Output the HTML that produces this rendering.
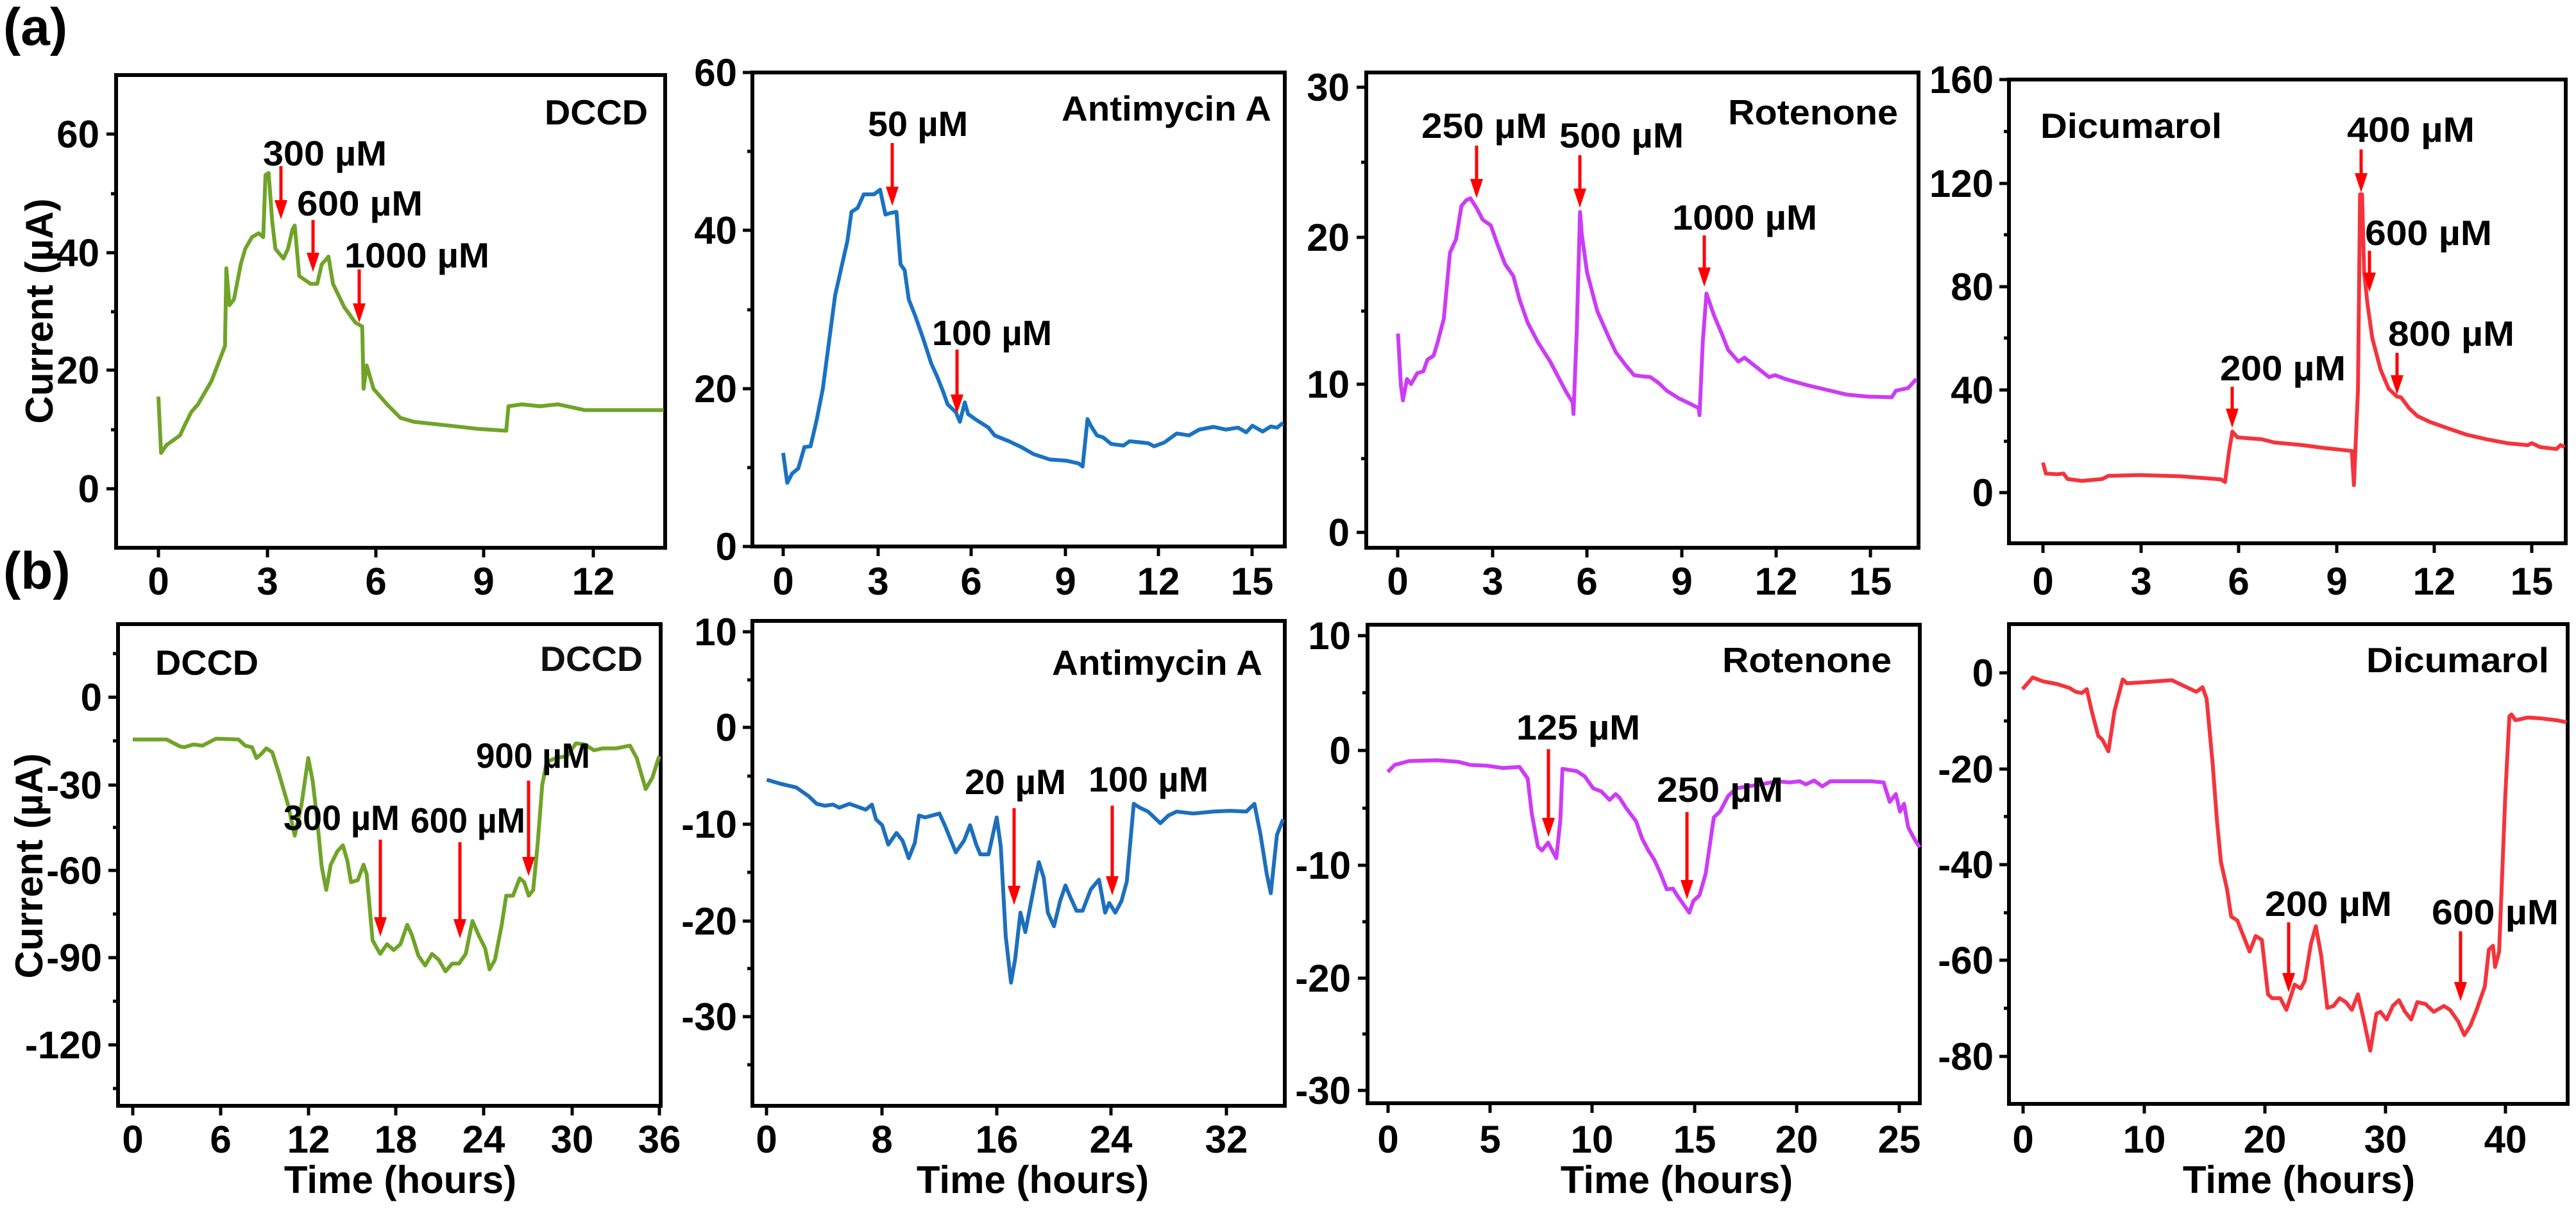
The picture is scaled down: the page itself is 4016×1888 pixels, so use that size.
<!DOCTYPE html>
<html><head><meta charset="utf-8"><style>
html,body{margin:0;padding:0;background:#fff;}
svg{display:block;}
text{font-family:"Liberation Sans",Arial,sans-serif;font-weight:bold;fill:#000;}
.yl{font-size:60px;text-anchor:end;}
.xl{font-size:60px;text-anchor:middle;}
.ax{fill:none;stroke:#000;stroke-width:6;}
.tk{stroke:#000;stroke-width:5;}
.ln{fill:none;stroke-width:6;stroke-linejoin:round;vector-effect:non-scaling-stroke;}
.ar{stroke:#f00;stroke-width:5;}
.ah{fill:#f00;}
.lb{font-size:55px;}
.an{font-size:55px;}
.tt{font-size:60px;text-anchor:middle;}
</style></head><body>
<svg width="4016" height="1888" viewBox="0 0 4016 1888" xmlns="http://www.w3.org/2000/svg">
<rect width="4016" height="1888" fill="#fff"/>
<text x="5" y="70" style="font-size:82px">(a)</text>
<text x="5" y="918" style="font-size:82px">(b)</text>

<!-- y axis titles -->
<text transform="translate(82,485) rotate(-90)" class="tt">Current (µA)</text>
<text transform="translate(66,1350) rotate(-90)" class="tt">Current (µA)</text>

<!-- ===== a1 ===== -->
<rect class="ax" x="181" y="117" width="856" height="737"/>
<g class="tk">
<line x1="166" y1="762" x2="181" y2="762"/><line x1="166" y1="577" x2="181" y2="577"/><line x1="166" y1="394" x2="181" y2="394"/><line x1="166" y1="209" x2="181" y2="209"/>
<line x1="173" y1="670" x2="181" y2="670"/><line x1="173" y1="486" x2="181" y2="486"/><line x1="173" y1="302" x2="181" y2="302"/>
<line x1="247" y1="854" x2="247" y2="869"/><line x1="417" y1="854" x2="417" y2="869"/><line x1="586" y1="854" x2="586" y2="869"/><line x1="754" y1="854" x2="754" y2="869"/><line x1="925" y1="854" x2="925" y2="869"/>
</g>
<text class="yl" x="155" y="783">0</text><text class="yl" x="155" y="598">20</text><text class="yl" x="155" y="415">40</text><text class="yl" x="155" y="230">60</text>
<text class="xl" x="247" y="927">0</text><text class="xl" x="417" y="927">3</text><text class="xl" x="586" y="927">6</text><text class="xl" x="754" y="927">9</text><text class="xl" x="925" y="927">12</text>
<polyline class="ln" stroke="#70a428" transform="scale(0.7015,0.6061)" points="352,1020 358,1165 370,1145 400,1120 410,1095 425,1060 440,1040 470,980 495,905 500,890 503,690 510,785 520,770 535,680 545,640 560,610 575,600 585,610 590,450 597,445 605,570 612,640 630,665 640,640 650,590 655,580 665,710 690,730 705,730 715,680 730,660 740,730 765,790 790,830 805,840 808,1000 815,940 820,960 830,1000 860,1040 890,1075 920,1085 1000,1095 1060,1103 1125,1108 1130,1045 1160,1040 1200,1045 1240,1040 1300,1055 1475,1055"/>
<text class="lb" x="849" y="194" textLength="161" lengthAdjust="spacingAndGlyphs">DCCD</text>
<text class="an" x="410" y="258" textLength="193" lengthAdjust="spacingAndGlyphs">300 µM</text>
<text class="an" x="463" y="336" textLength="196" lengthAdjust="spacingAndGlyphs">600 µM</text>
<text class="an" x="537" y="417" textLength="226" lengthAdjust="spacingAndGlyphs">1000 µM</text>
<line class="ar" x1="438" y1="259" x2="438" y2="315"/><polygon class="ah" points="428,312 448,312 438,342"/>
<line class="ar" x1="488" y1="343" x2="488" y2="397"/><polygon class="ah" points="478,394 498,394 488,424"/>
<line class="ar" x1="560" y1="420" x2="560" y2="476"/><polygon class="ah" points="550,473 570,473 560,503"/>

<!-- ===== a2 ===== -->
<rect class="ax" x="1173" y="113" width="830" height="739"/>
<g class="tk">
<line x1="1158" y1="852" x2="1173" y2="852"/><line x1="1158" y1="606" x2="1173" y2="606"/><line x1="1158" y1="359" x2="1173" y2="359"/><line x1="1158" y1="113" x2="1173" y2="113"/>
<line x1="1165" y1="729" x2="1173" y2="729"/><line x1="1165" y1="483" x2="1173" y2="483"/><line x1="1165" y1="236" x2="1173" y2="236"/>
<line x1="1221" y1="852" x2="1221" y2="867"/><line x1="1369" y1="852" x2="1369" y2="867"/><line x1="1514" y1="852" x2="1514" y2="867"/><line x1="1661" y1="852" x2="1661" y2="867"/><line x1="1806" y1="852" x2="1806" y2="867"/><line x1="1952" y1="852" x2="1952" y2="867"/>
</g>
<text class="yl" x="1149" y="873">0</text><text class="yl" x="1149" y="627">20</text><text class="yl" x="1149" y="380">40</text><text class="yl" x="1149" y="134">60</text>
<text class="xl" x="1221" y="927">0</text><text class="xl" x="1369" y="927">3</text><text class="xl" x="1514" y="927">6</text><text class="xl" x="1661" y="927">9</text><text class="xl" x="1806" y="927">12</text><text class="xl" x="1952" y="927">15</text>
<polyline class="ln" stroke="#1a72c2" transform="translate(1050,0) scale(0.6378,0.6061)" points="268,1165 278,1242 290,1218 305,1205 320,1150 335,1148 350,1080 365,1000 380,880 395,760 410,690 425,620 435,545 450,535 465,500 490,500 505,488 518,552 530,548 545,545 555,680 565,695 575,770 590,810 610,870 630,935 645,970 660,1010 670,1040 690,1060 700,1085 712,1035 720,1065 740,1080 770,1100 785,1120 820,1135 850,1150 880,1168 920,1182 960,1185 990,1192 1000,1200 1012,1078 1020,1095 1035,1120 1050,1125 1070,1142 1100,1146 1115,1135 1160,1140 1175,1148 1200,1138 1230,1115 1260,1120 1285,1105 1320,1098 1350,1105 1380,1100 1400,1112 1415,1095 1440,1110 1460,1097 1475,1100 1490,1088"/>
<text class="lb" x="1655" y="188" textLength="327" lengthAdjust="spacingAndGlyphs">Antimycin A</text>
<text class="an" x="1353" y="212" textLength="156" lengthAdjust="spacingAndGlyphs">50 µM</text>
<text class="an" x="1453" y="538" textLength="187" lengthAdjust="spacingAndGlyphs">100 µM</text>
<line class="ar" x1="1391" y1="223" x2="1391" y2="294"/><polygon class="ah" points="1381,291 1401,291 1391,321"/>
<line class="ar" x1="1492" y1="545" x2="1492" y2="618"/><polygon class="ah" points="1482,615 1502,615 1492,645"/>

<!-- ===== a3 ===== -->
<rect class="ax" x="2130" y="113" width="861" height="741"/>
<g class="tk">
<line x1="2115" y1="830" x2="2130" y2="830"/><line x1="2115" y1="599" x2="2130" y2="599"/><line x1="2115" y1="370" x2="2130" y2="370"/><line x1="2115" y1="136" x2="2130" y2="136"/>
<line x1="2122" y1="715" x2="2130" y2="715"/><line x1="2122" y1="485" x2="2130" y2="485"/><line x1="2122" y1="253" x2="2130" y2="253"/>
<line x1="2179" y1="854" x2="2179" y2="869"/><line x1="2327" y1="854" x2="2327" y2="869"/><line x1="2474" y1="854" x2="2474" y2="869"/><line x1="2622" y1="854" x2="2622" y2="869"/><line x1="2769" y1="854" x2="2769" y2="869"/><line x1="2916" y1="854" x2="2916" y2="869"/>
</g>
<text class="yl" x="2104" y="851">0</text><text class="yl" x="2104" y="620">10</text><text class="yl" x="2104" y="391">20</text><text class="yl" x="2104" y="157">30</text>
<text class="xl" x="2179" y="927">0</text><text class="xl" x="2327" y="927">3</text><text class="xl" x="2474" y="927">6</text><text class="xl" x="2622" y="927">9</text><text class="xl" x="2769" y="927">12</text><text class="xl" x="2916" y="927">15</text>
<polyline class="ln" stroke="#cc3cf5" transform="translate(2050,0) scale(0.6378,0.6061)" points="203,858 210,990 215,1030 225,975 235,988 250,960 265,955 275,925 290,915 300,880 315,820 330,650 345,615 358,530 370,515 380,510 395,535 410,565 430,580 445,625 465,680 485,710 500,770 520,830 545,880 575,930 600,980 615,1010 630,1035 632,1065 640,850 648,545 652,600 665,700 690,800 715,860 735,905 760,940 780,965 800,968 820,970 840,985 860,1005 890,1025 920,1040 938,1050 940,1068 948,880 957,755 975,810 995,860 1010,900 1035,930 1050,920 1080,945 1110,970 1125,965 1150,975 1200,990 1260,1005 1300,1015 1350,1020 1410,1022 1420,1005 1450,998 1470,975"/>
<text class="lb" x="2694" y="194" textLength="265" lengthAdjust="spacingAndGlyphs">Rotenone</text>
<text class="an" x="2216" y="215" textLength="196" lengthAdjust="spacingAndGlyphs">250 µM</text>
<text class="an" x="2431" y="230" textLength="194" lengthAdjust="spacingAndGlyphs">500 µM</text>
<text class="an" x="2607" y="358" textLength="226" lengthAdjust="spacingAndGlyphs">1000 µM</text>
<line class="ar" x1="2302" y1="227" x2="2302" y2="282"/><polygon class="ah" points="2292,279 2312,279 2302,309"/>
<line class="ar" x1="2463" y1="242" x2="2463" y2="297"/><polygon class="ah" points="2453,294 2473,294 2463,324"/>
<line class="ar" x1="2657" y1="367" x2="2657" y2="420"/><polygon class="ah" points="2647,417 2667,417 2657,447"/>

<!-- ===== a4 ===== -->
<rect class="ax" x="3132" y="124" width="868" height="723"/>
<g class="tk">
<line x1="3117" y1="768" x2="3132" y2="768"/><line x1="3117" y1="608" x2="3132" y2="608"/><line x1="3117" y1="447" x2="3132" y2="447"/><line x1="3117" y1="286" x2="3132" y2="286"/><line x1="3117" y1="124" x2="3132" y2="124"/>
<line x1="3124" y1="688" x2="3132" y2="688"/><line x1="3124" y1="527" x2="3132" y2="527"/><line x1="3124" y1="366" x2="3132" y2="366"/><line x1="3124" y1="205" x2="3132" y2="205"/>
<line x1="3185" y1="847" x2="3185" y2="862"/><line x1="3338" y1="847" x2="3338" y2="862"/><line x1="3490" y1="847" x2="3490" y2="862"/><line x1="3643" y1="847" x2="3643" y2="862"/><line x1="3795" y1="847" x2="3795" y2="862"/><line x1="3947" y1="847" x2="3947" y2="862"/>
</g>
<text class="yl" x="3108" y="789">0</text><text class="yl" x="3108" y="629">40</text><text class="yl" x="3108" y="468">80</text><text class="yl" x="3108" y="307">120</text><text class="yl" x="3108" y="145">160</text>
<text class="xl" x="3185" y="927">0</text><text class="xl" x="3338" y="927">3</text><text class="xl" x="3490" y="927">6</text><text class="xl" x="3643" y="927">9</text><text class="xl" x="3795" y="927">12</text><text class="xl" x="3947" y="927">15</text>
<polyline class="ln" stroke="#f4343c" transform="translate(3016,0) scale(0.6378,0.6061)" points="265,1190 272,1218 300,1220 315,1218 325,1232 360,1237 410,1232 425,1224 500,1222 600,1225 700,1233 710,1240 720,1160 728,1110 740,1125 800,1130 830,1138 900,1145 950,1152 1020,1160 1025,1248 1035,1000 1040,500 1045,500 1050,700 1058,780 1070,870 1090,950 1110,1000 1130,1020 1140,1022 1160,1050 1180,1070 1210,1085 1250,1100 1300,1118 1350,1130 1400,1140 1450,1145 1460,1140 1480,1150 1520,1155 1530,1145 1540,1150"/>
<text class="lb" x="3181" y="215" textLength="283" lengthAdjust="spacingAndGlyphs">Dicumarol</text>
<text class="an" x="3659" y="221" textLength="199" lengthAdjust="spacingAndGlyphs">400 µM</text>
<text class="an" x="3687" y="382" textLength="198" lengthAdjust="spacingAndGlyphs">600 µM</text>
<text class="an" x="3723" y="539" textLength="197" lengthAdjust="spacingAndGlyphs">800 µM</text>
<text class="an" x="3461" y="593" textLength="196" lengthAdjust="spacingAndGlyphs">200 µM</text>
<line class="ar" x1="3681" y1="233" x2="3681" y2="273"/><polygon class="ah" points="3671,270 3691,270 3681,300"/>
<line class="ar" x1="3694" y1="391" x2="3694" y2="428"/><polygon class="ah" points="3684,425 3704,425 3694,455"/>
<line class="ar" x1="3737" y1="550" x2="3737" y2="588"/><polygon class="ah" points="3727,585 3747,585 3737,615"/>
<line class="ar" x1="3480" y1="603" x2="3480" y2="640"/><polygon class="ah" points="3470,637 3490,637 3480,667"/>

<!-- ===== b1 ===== -->
<rect class="ax" x="184" y="973" width="846" height="751"/>
<g class="tk">
<line x1="169" y1="1087" x2="184" y2="1087"/><line x1="169" y1="1224" x2="184" y2="1224"/><line x1="169" y1="1357" x2="184" y2="1357"/><line x1="169" y1="1493" x2="184" y2="1493"/><line x1="169" y1="1629" x2="184" y2="1629"/>
<line x1="176" y1="1019" x2="184" y2="1019"/><line x1="176" y1="1155" x2="184" y2="1155"/><line x1="176" y1="1290" x2="184" y2="1290"/><line x1="176" y1="1425" x2="184" y2="1425"/><line x1="176" y1="1561" x2="184" y2="1561"/><line x1="176" y1="1697" x2="184" y2="1697"/>
<line x1="207" y1="1724" x2="207" y2="1739"/><line x1="344" y1="1724" x2="344" y2="1739"/><line x1="481" y1="1724" x2="481" y2="1739"/><line x1="617" y1="1724" x2="617" y2="1739"/><line x1="754" y1="1724" x2="754" y2="1739"/><line x1="892" y1="1724" x2="892" y2="1739"/><line x1="1028" y1="1724" x2="1028" y2="1739"/>
</g>
<text class="yl" x="159" y="1108">0</text><text class="yl" x="159" y="1245">-30</text><text class="yl" x="159" y="1378">-60</text><text class="yl" x="159" y="1514">-90</text><text class="yl" x="159" y="1650">-120</text>
<text class="xl" x="207" y="1797">0</text><text class="xl" x="344" y="1797">6</text><text class="xl" x="481" y="1797">12</text><text class="xl" x="617" y="1797">18</text><text class="xl" x="754" y="1797">24</text><text class="xl" x="892" y="1797">30</text><text class="xl" x="1028" y="1797">36</text>
<polyline class="ln" stroke="#70a428" transform="translate(0,940) scale(0.7015,0.6046)" points="295,352 370,352 380,358 400,370 410,372 430,365 450,368 480,350 530,352 545,368 560,372 570,400 580,390 592,375 605,385 620,440 640,520 655,600 670,520 685,400 695,460 705,560 715,680 725,740 735,675 750,640 762,625 772,665 780,720 795,715 808,675 815,700 828,870 845,905 860,880 875,895 890,880 905,830 915,855 930,910 945,935 960,905 975,920 990,950 1005,930 1020,930 1035,905 1050,820 1065,860 1078,890 1088,945 1100,920 1115,830 1125,755 1140,755 1155,710 1165,720 1175,755 1185,740 1195,620 1205,470 1215,410 1235,400 1260,395 1280,362 1300,365 1320,380 1340,375 1370,375 1400,368 1415,400 1435,480 1450,450 1465,395"/>
<text class="lb" x="242" y="1052" textLength="161" lengthAdjust="spacingAndGlyphs">DCCD</text>
<text class="lb" x="842" y="1046" textLength="160" lengthAdjust="spacingAndGlyphs" style="fill:#111">DCCD</text>
<text class="an" x="442" y="1294" textLength="181" lengthAdjust="spacingAndGlyphs">300 µM</text>
<text class="an" x="640" y="1298" textLength="179" lengthAdjust="spacingAndGlyphs">600 µM</text>
<text class="an" x="742" y="1197" textLength="178" lengthAdjust="spacingAndGlyphs">900 µM</text>
<line class="ar" x1="593" y1="1309" x2="593" y2="1433"/><polygon class="ah" points="583,1430 603,1430 593,1460"/>
<line class="ar" x1="717" y1="1313" x2="717" y2="1436"/><polygon class="ah" points="707,1433 727,1433 717,1463"/>
<line class="ar" x1="824" y1="1217" x2="824" y2="1339"/><polygon class="ah" points="814,1336 834,1336 824,1366"/>
<text class="tt" x="624" y="1860">Time (hours)</text>

<!-- ===== b2 ===== -->
<rect class="ax" x="1173" y="968" width="830" height="756"/>
<g class="tk">
<line x1="1158" y1="985" x2="1173" y2="985"/><line x1="1158" y1="1134" x2="1173" y2="1134"/><line x1="1158" y1="1285" x2="1173" y2="1285"/><line x1="1158" y1="1436" x2="1173" y2="1436"/><line x1="1158" y1="1585" x2="1173" y2="1585"/>
<line x1="1165" y1="1060" x2="1173" y2="1060"/><line x1="1165" y1="1210" x2="1173" y2="1210"/><line x1="1165" y1="1360" x2="1173" y2="1360"/><line x1="1165" y1="1510" x2="1173" y2="1510"/><line x1="1165" y1="1660" x2="1173" y2="1660"/>
<line x1="1195" y1="1724" x2="1195" y2="1739"/><line x1="1375" y1="1724" x2="1375" y2="1739"/><line x1="1554" y1="1724" x2="1554" y2="1739"/><line x1="1732" y1="1724" x2="1732" y2="1739"/><line x1="1912" y1="1724" x2="1912" y2="1739"/>
</g>
<text class="yl" x="1149" y="1006">10</text><text class="yl" x="1149" y="1155">0</text><text class="yl" x="1149" y="1306">-10</text><text class="yl" x="1149" y="1457">-20</text><text class="yl" x="1149" y="1606">-30</text>
<text class="xl" x="1195" y="1797">0</text><text class="xl" x="1375" y="1797">8</text><text class="xl" x="1554" y="1797">16</text><text class="xl" x="1732" y="1797">24</text><text class="xl" x="1912" y="1797">32</text>
<polyline class="ln" stroke="#1d6fbd" transform="translate(1050,938) scale(0.6378,0.6061)" points="228,458 260,468 300,478 330,500 350,520 370,525 390,522 405,530 430,520 470,535 485,522 495,560 510,575 525,625 545,595 560,615 575,660 590,620 600,550 615,555 650,545 665,580 690,645 710,615 725,575 740,625 750,650 770,650 790,555 800,630 812,860 825,980 835,920 848,800 860,850 880,740 893,670 905,710 915,800 930,835 945,770 958,730 970,760 985,795 1000,795 1020,740 1040,715 1055,800 1065,775 1080,800 1095,770 1108,720 1125,520 1140,530 1160,540 1175,555 1190,570 1210,550 1230,540 1270,545 1320,540 1360,538 1400,540 1420,520 1435,600 1450,700 1460,750 1475,600 1490,560"/>
<text class="lb" x="1640" y="1052" textLength="328" lengthAdjust="spacingAndGlyphs">Antimycin A</text>
<text class="an" x="1504" y="1238" textLength="158" lengthAdjust="spacingAndGlyphs">20 µM</text>
<text class="an" x="1697" y="1234" textLength="187" lengthAdjust="spacingAndGlyphs">100 µM</text>
<line class="ar" x1="1581" y1="1260" x2="1581" y2="1384"/><polygon class="ah" points="1571,1381 1591,1381 1581,1411"/>
<line class="ar" x1="1734" y1="1256" x2="1734" y2="1369"/><polygon class="ah" points="1724,1366 1744,1366 1734,1396"/>
<text class="tt" x="1610" y="1860">Time (hours)</text>

<!-- ===== b3 ===== -->
<rect class="ax" x="2132" y="974" width="861" height="746"/>
<g class="tk">
<line x1="2117" y1="991" x2="2132" y2="991"/><line x1="2117" y1="1170" x2="2132" y2="1170"/><line x1="2117" y1="1349" x2="2132" y2="1349"/><line x1="2117" y1="1525" x2="2132" y2="1525"/><line x1="2117" y1="1700" x2="2132" y2="1700"/>
<line x1="2124" y1="1080" x2="2132" y2="1080"/><line x1="2124" y1="1260" x2="2132" y2="1260"/><line x1="2124" y1="1437" x2="2132" y2="1437"/><line x1="2124" y1="1612" x2="2132" y2="1612"/>
<line x1="2164" y1="1720" x2="2164" y2="1735"/><line x1="2323" y1="1720" x2="2323" y2="1735"/><line x1="2482" y1="1720" x2="2482" y2="1735"/><line x1="2642" y1="1720" x2="2642" y2="1735"/><line x1="2801" y1="1720" x2="2801" y2="1735"/><line x1="2961" y1="1720" x2="2961" y2="1735"/>
</g>
<text class="yl" x="2106" y="1012">10</text><text class="yl" x="2106" y="1191">0</text><text class="yl" x="2106" y="1370">-10</text><text class="yl" x="2106" y="1546">-20</text><text class="yl" x="2106" y="1721">-30</text>
<text class="xl" x="2164" y="1797">0</text><text class="xl" x="2323" y="1797">5</text><text class="xl" x="2482" y="1797">10</text><text class="xl" x="2642" y="1797">15</text><text class="xl" x="2801" y="1797">20</text><text class="xl" x="2961" y="1797">25</text>
<polyline class="ln" stroke="#cc3cf5" transform="translate(2050,938) scale(0.6378,0.6061)" points="178,438 195,420 230,410 300,408 350,412 380,420 420,422 460,428 500,425 520,455 530,545 545,630 555,640 570,620 580,640 590,660 600,560 605,430 640,436 660,450 680,480 700,488 720,510 735,495 745,505 760,530 785,565 800,610 815,640 830,665 845,700 860,740 875,738 885,755 905,785 915,800 925,770 940,755 955,700 975,555 990,540 1010,500 1030,480 1060,475 1090,470 1130,462 1160,465 1185,462 1200,470 1220,460 1240,475 1260,462 1300,462 1360,462 1390,465 1405,515 1420,495 1430,540 1440,520 1450,580 1465,610 1478,632"/>
<text class="lb" x="2685" y="1048" textLength="264" lengthAdjust="spacingAndGlyphs">Rotenone</text>
<text class="an" x="2364" y="1153" textLength="193" lengthAdjust="spacingAndGlyphs">125 µM</text>
<text class="an" x="2583" y="1250" textLength="197" lengthAdjust="spacingAndGlyphs">250 µM</text>
<line class="ar" x1="2414" y1="1168" x2="2414" y2="1278"/><polygon class="ah" points="2404,1275 2424,1275 2414,1305"/>
<line class="ar" x1="2630" y1="1266" x2="2630" y2="1375"/><polygon class="ah" points="2620,1372 2640,1372 2630,1402"/>
<text class="tt" x="2614" y="1860">Time (hours)</text>

<!-- ===== b4 ===== -->
<rect class="ax" x="3132" y="973" width="871" height="748"/>
<g class="tk">
<line x1="3117" y1="1049" x2="3132" y2="1049"/><line x1="3117" y1="1199" x2="3132" y2="1199"/><line x1="3117" y1="1348" x2="3132" y2="1348"/><line x1="3117" y1="1497" x2="3132" y2="1497"/><line x1="3117" y1="1647" x2="3132" y2="1647"/>
<line x1="3124" y1="1124" x2="3132" y2="1124"/><line x1="3124" y1="1273" x2="3132" y2="1273"/><line x1="3124" y1="1423" x2="3132" y2="1423"/><line x1="3124" y1="1572" x2="3132" y2="1572"/>
<line x1="3154" y1="1721" x2="3154" y2="1736"/><line x1="3343" y1="1721" x2="3343" y2="1736"/><line x1="3531" y1="1721" x2="3531" y2="1736"/><line x1="3719" y1="1721" x2="3719" y2="1736"/><line x1="3906" y1="1721" x2="3906" y2="1736"/>
</g>
<text class="yl" x="3108" y="1070">0</text><text class="yl" x="3108" y="1220">-20</text><text class="yl" x="3108" y="1369">-40</text><text class="yl" x="3108" y="1518">-60</text><text class="yl" x="3108" y="1668">-80</text>
<text class="xl" x="3154" y="1797">0</text><text class="xl" x="3343" y="1797">10</text><text class="xl" x="3531" y="1797">20</text><text class="xl" x="3719" y="1797">30</text><text class="xl" x="3906" y="1797">40</text>
<polyline class="ln" stroke="#f4343c" transform="translate(3016,938) scale(0.6378,0.6061)" points="215,225 240,195 265,205 300,212 330,222 345,232 360,235 372,225 385,285 400,345 410,355 425,385 440,280 460,200 470,210 500,208 540,205 580,202 600,212 620,222 640,232 655,220 665,250 680,420 690,560 700,670 715,740 725,810 740,820 755,860 770,900 785,860 800,870 815,1010 825,1020 845,1020 860,1050 880,985 895,995 905,975 920,880 932,835 945,910 960,1045 975,1040 990,1020 1005,1030 1020,1050 1035,1010 1050,1080 1065,1155 1080,1060 1090,1055 1105,1075 1120,1040 1135,1025 1150,1055 1165,1075 1180,1030 1200,1035 1220,1055 1245,1040 1260,1050 1280,1080 1295,1115 1310,1090 1325,1050 1345,990 1355,895 1365,885 1370,940 1380,900 1395,500 1405,295 1410,290 1420,305 1450,298 1480,300 1520,305 1545,310"/>
<text class="lb" x="3689" y="1048" textLength="285" lengthAdjust="spacingAndGlyphs">Dicumarol</text>
<text class="an" x="3531" y="1428" textLength="198" lengthAdjust="spacingAndGlyphs">200 µM</text>
<text class="an" x="3791" y="1441" textLength="198" lengthAdjust="spacingAndGlyphs">600 µM</text>
<line class="ar" x1="3568" y1="1438" x2="3568" y2="1520"/><polygon class="ah" points="3558,1517 3578,1517 3568,1547"/>
<line class="ar" x1="3836" y1="1452" x2="3836" y2="1534"/><polygon class="ah" points="3826,1531 3846,1531 3836,1561"/>
<text class="tt" x="3584" y="1860">Time (hours)</text>
</svg>
</body></html>
